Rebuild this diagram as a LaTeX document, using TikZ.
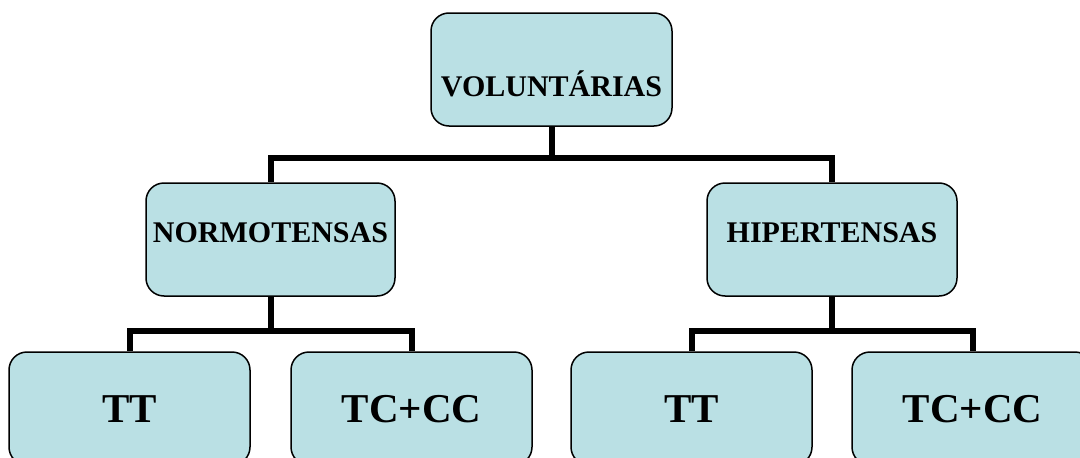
\documentclass[tikz,border=0pt]{standalone}
\usepackage{fontspec}
\setmainfont{Liberation Serif}
\definecolor{boxfill}{RGB}{186,224,228}

\begin{document}
\begin{tikzpicture}[x=1pt, y=-1pt,
    block/.style={rectangle, draw, line width=1.5pt, rounded corners=18pt, fill=boxfill, text centered, inner sep=0pt, minimum height=113pt, font=\fontsize{30}{36}\selectfont\bfseries},
    leaf/.style={block, minimum width=241pt, text height=27pt, text depth=0pt, font=\fontsize{41}{49}\selectfont\bfseries},
    conn/.style={line width=6pt}
]
\useasboundingbox (0,0) rectangle (1080,458);
\clip (0,0) rectangle (1080,458);

% Top
\node[block, minimum width=241pt, text height=54pt, text depth=0pt] (vol) at (551.5, 69.5) {VOLUNTÁRIAS};

% Groups
\node[block, minimum width=249pt, text height=20pt, text depth=14pt] (normo) at (270.5, 239.5) {NORMOTENSAS};
\node[block, minimum width=250pt, text height=20pt, text depth=14pt] (hiper) at (832, 239.5) {HIPERTENSAS};

% Leaves
\node[leaf] (tt1) at (129.5, 408.5) {TT};
\node[leaf] (tc1) at (411.5, 408.5) {TC+CC};
\node[leaf] (tt2) at (691.5, 408.5) {TT};
\node[leaf] (tc2) at (972.5, 408.5) {TC+CC};

% Connectors
\draw[conn] (vol.south) -- ++(0,31) -| (normo.north);
\draw[conn] (vol.south) -- ++(0,31) -| (hiper.north);
\draw[conn] (normo.south) -- ++(0,34) -| (tt1.north);
\draw[conn] (normo.south) -- ++(0,34) -| (tc1.north);
\draw[conn] (hiper.south) -- ++(0,34) -| (tt2.north);
\draw[conn] (hiper.south) -- ++(0,34) -| (tc2.north);

\end{tikzpicture}
\end{document}
